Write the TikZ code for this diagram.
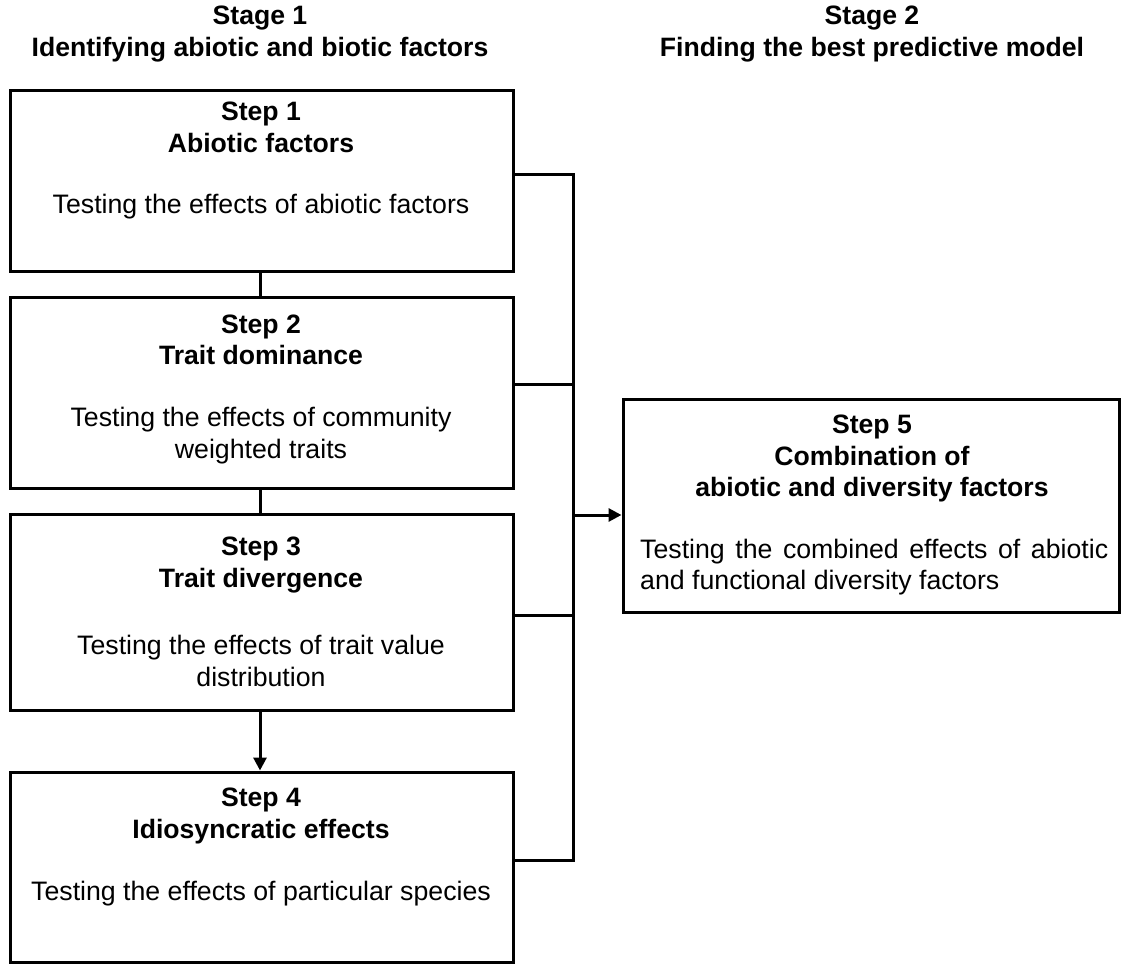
\documentclass[tikz,border=0pt]{standalone}
\usepackage{fontspec}
\setmainfont{Liberation Sans}
\usetikzlibrary{arrows.meta,calc}
\begin{document}
\begin{tikzpicture}[x=1pt,y=-1pt,
  box/.style={draw=black,line width=3pt,fill=white,inner sep=0pt},
  ttl/.style={inner sep=0pt,align=center,font=\fontsize{26.6}{31.5}\selectfont\bfseries},
  body/.style={inner sep=0pt,align=center,font=\fontsize{26.7}{31.5}\selectfont},
  conn/.style={line width=3pt},
  arr/.style={line width=3pt,-{Triangle[length=13pt,width=13pt]}}]
\useasboundingbox (0,0) rectangle (1122,965);
% headings
\node[ttl] (h1) at (260,34) {Stage 1\\Identifying abiotic and biotic factors};
\node[ttl] (h2) at (872,34) {Stage 2\\Finding the best predictive model};
% boxes
\node[box,minimum width=503pt,minimum height=181pt] (b1) at (261.5,181.5) {};
\node[box,minimum width=503pt,minimum height=190pt] (b2) at (261.5,393) {};
\node[box,minimum width=503pt,minimum height=196pt] (b3) at (261.5,612) {};
\node[box,minimum width=503pt,minimum height=190pt] (b4) at (261.5,867) {};
\node[box,minimum width=496pt,minimum height=212pt] (b5) at (871,506) {};
% texts
\node[ttl] (t1) at (261,127.5) {Step 1\\Abiotic factors};
\node[body] (d1) at (261,207) {Testing the effects of abiotic factors};
\node[ttl] (t2) at (261,340) {Step 2\\Trait dominance};
\node[body] (d2) at (261,435.5) {Testing the effects of community\\weighted traits};
\node[ttl] (t3) at (261,565) {Step 3\\Trait divergence};
\node[body] (d3) at (261,661) {Testing the effects of trait value\\distribution};
\node[ttl] (t4) at (261,816) {Step 4\\Idiosyncratic effects};
\node[body] (d4) at (261,894) {Testing the effects of particular species};
\node[ttl] (t5) at (872,458.5) {Step 5\\Combination of\\abiotic and diversity factors};
\node[body,anchor=west] (d5a) at (640,552) {\hbox to 468pt{Testing\hfill the\hfill combined\hfill effects\hfill of\hfill abiotic}};
\node[body,anchor=west] (d5b) at (640,583) {and functional diversity factors};
% connectors
\coordinate (j1) at (573,175);
\coordinate (j2) at (573,385);
\coordinate (j3) at (573,615);
\coordinate (j4) at (573,860);
\coordinate (jm) at (573,515);
\draw[conn] (b1.south -| 260,0) -- (b2.north -| 260,0);
\draw[conn] (b2.south -| 260,0) -- (b3.north -| 260,0);
\draw[arr] (b3.south -| 260,0) -- (b4.north -| 260,0);
\draw[conn] (b1.east |- j1) -- (j1);
\draw[conn] (b2.east |- j2) -- (j2);
\draw[conn] (b3.east |- j3) -- (j3);
\draw[conn] (b4.east |- j4) -- (j4);
\draw[conn,line cap=rect] (j1) -- (j4);
\draw[arr] (jm) -- (b5.west |- jm);
\end{tikzpicture}
\end{document}
